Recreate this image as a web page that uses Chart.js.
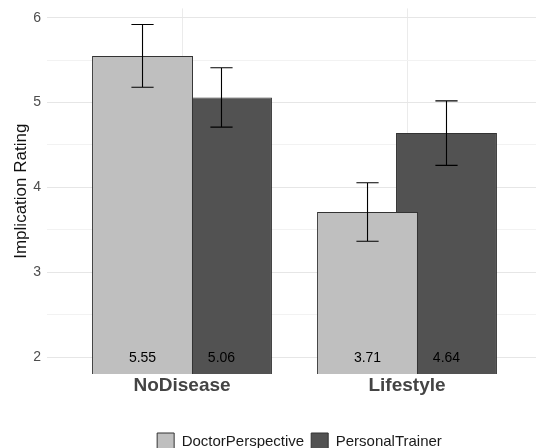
<!DOCTYPE html>
<html>
<head>
<meta charset="utf-8">
<script src="https://cdn.jsdelivr.net/npm/chart.js@4"></script>
<style>
    html, body { margin: 0; padding: 0; background: #fff; overflow: hidden; }
    #wrap { position: relative; width: 536px; height: 460px; }
</style>
</head>
<body>
<div id="wrap"><canvas id="ChartHolder"></canvas></div>
<script>
var categories = ['NoDisease', 'Lifestyle'];
var seriesNames = ['DoctorPerspective', 'PersonalTrainer'];
var doctorMeans = [5.55, 3.71];
var doctorErrors = [0.37, 0.345];
var trainerMeans = [5.06, 4.64];
var trainerErrors = [0.35, 0.38];
var yTicks = [2, 2.5, 3, 3.5, 4, 4.5, 5, 5.5, 6];
var labelAt = 2;

var fontName = '"Liberation Sans", Arial, sans-serif';

function toPoints(means) {
    return means.map(function (m, i) { return { x: i + 1, y: m }; });
}

// error bars + value labels, drawn over the bars
var errorBarPlugin = {
    id: 'errorBars',
    afterDatasetsDraw: function (chart) {
        var ctx = chart.ctx;
        var yScale = chart.scales.y;
        ctx.save();
        chart.data.datasets.forEach(function (ds, di) {
            var meta = chart.getDatasetMeta(di);
            meta.data.forEach(function (bar, i) {
                var mean = ds.data[i].y;
                var err = ds.errors[i];
                var top = yScale.getPixelForValue(mean + err);
                var bottom = yScale.getPixelForValue(mean - err);
                var half = bar.width * 0.11;
                ctx.strokeStyle = '#000';
                ctx.lineWidth = 1.1;
                ctx.beginPath();
                ctx.moveTo(bar.x, top); ctx.lineTo(bar.x, bottom);
                ctx.moveTo(bar.x - half, top); ctx.lineTo(bar.x + half, top);
                ctx.moveTo(bar.x - half, bottom); ctx.lineTo(bar.x + half, bottom);
                ctx.stroke();

                ctx.fillStyle = '#000';
                ctx.font = '14px ' + fontName;
                ctx.textAlign = 'center';
                ctx.textBaseline = 'middle';
                ctx.fillText(mean.toFixed(2), bar.x, yScale.getPixelForValue(labelAt) + 1);
            });
        });
        ctx.restore();
    }
};

// ggplot centres the legend on the (wider) panel, nudge it right a bit
var legendShift = {
    id: 'legendShift',
    afterLayout: function (chart) {
        chart.legend.left += 8;
        chart.legend.right += 8;
    }
};

var ctx = document.getElementById('ChartHolder');

var chartConfig = {
    type: 'bar',
    data: {
        datasets: [{
            label: seriesNames[0],
            data: toPoints(doctorMeans),
            errors: doctorErrors,
            backgroundColor: '#bfbfbf',
            borderColor: '#333333',
            borderWidth: 1,
            categoryPercentage: 0.702,
            barPercentage: 1.278
        }, {
            label: seriesNames[1],
            data: toPoints(trainerMeans),
            errors: trainerErrors,
            backgroundColor: '#525252',
            borderColor: '#333333',
            borderWidth: 1,
            categoryPercentage: 0.702,
            barPercentage: 1.278
        }]
    },
    options: {
        responsive: true,
        maintainAspectRatio: false,
        animation: false,
        layout: { padding: 0 },
        plugins: {
            tooltip: { enabled: false },
            legend: {
                position: 'bottom',
                fullSize: false,
                labels: {
                    boxWidth: 17,
                    boxHeight: 17,
                    padding: 7,
                    color: '#1a1a1a',
                    font: { family: fontName, size: 15 }
                }
            }
        },
        scales: {
            x: {
                type: 'linear',
                offset: false,
                min: 0.4,
                max: 2.5733,
                afterBuildTicks: function (scale) {
                    scale.ticks = categories.map(function (c, i) { return { value: i + 1 }; });
                },
                afterFit: function (scale) { scale.height = 52; },
                ticks: {
                    padding: 0,
                    color: '#444444',
                    font: { family: fontName, size: 19, weight: 'bold' },
                    callback: function (v) { return categories[v - 1]; }
                },
                grid: { color: '#ebebeb', drawTicks: false, offset: false },
                border: { display: false }
            },
            y: {
                min: 1.8,
                max: 6.11,
                afterBuildTicks: function (scale) {
                    scale.ticks = yTicks.map(function (v) { return { value: v }; });
                },
                afterFit: function (scale) { scale.width = 47; },
                title: {
                    display: true,
                    text: 'Implication Rating',
                    color: '#111111',
                    padding: { top: 11, bottom: 0 },
                    font: { family: fontName, size: 17 }
                },
                ticks: {
                    padding: 0,
                    color: '#4d4d4d',
                    font: { family: fontName, size: 14 },
                    callback: function (v) { return Number.isInteger(v) ? v : ''; }
                },
                grid: {
                    drawTicks: true,
                    tickLength: 6,
                    tickColor: 'rgba(0,0,0,0)',
                    lineWidth: 1,
                    color: function (c) {
                        return c.tick && Number.isInteger(c.tick.value) ? '#e6e6e6' : '#f2f2f2';
                    }
                },
                border: { display: false }
            }
        }
    },
    plugins: [errorBarPlugin, legendShift]
};

var currentChart = new Chart(ctx, chartConfig);
</script>
</body>
</html>
